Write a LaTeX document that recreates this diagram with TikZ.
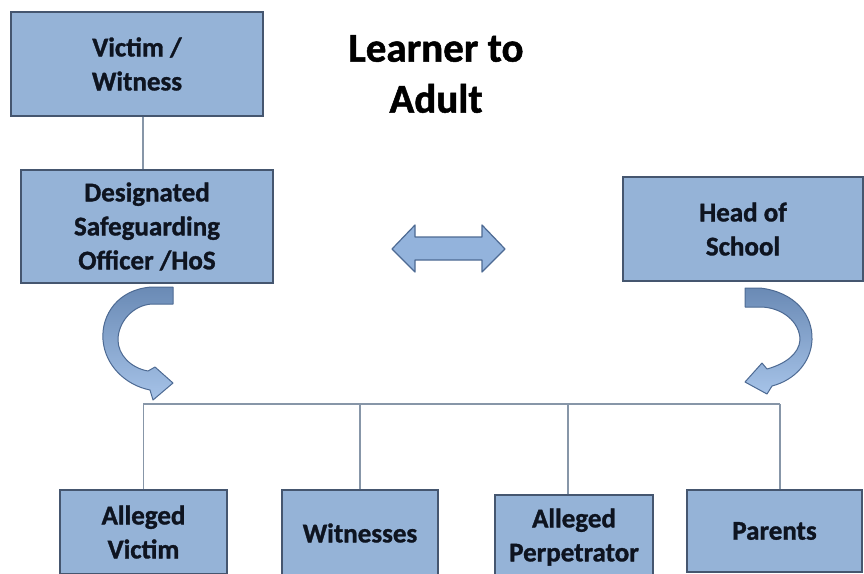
\documentclass[tikz,border=0pt]{standalone}
\usepackage{fontspec}
\setmainfont{Carlito}[BoldFeatures={FakeBold=1.2}]
\definecolor{boxfill}{HTML}{95B3D7}
\definecolor{boxline}{HTML}{45566F}
\definecolor{lineclr}{HTML}{8796A8}
\definecolor{txtclr}{HTML}{0E1420}
\definecolor{arrtop}{HTML}{6A8AB5}
\definecolor{arrbot}{HTML}{A6C3E8}
\definecolor{arrline}{HTML}{4D6A93}
\definecolor{dblfill}{HTML}{93B3DC}
\begin{document}
\begin{tikzpicture}[x=1pt,y=-1pt,
  box/.style={draw=boxline, fill=boxfill, line width=1.3pt, align=center,
    font=\fontsize{27}{34}\selectfont\bfseries, text=txtclr, inner sep=0pt},
  titlestyle/.style={align=center, font=\fontsize{41}{51}\selectfont\bfseries, text=black, inner sep=0pt},
  link/.style={draw=lineclr, line width=1.4pt},
  curvearrow/.style={draw=arrline, line width=1pt, top color=arrtop, bottom color=arrbot, line join=round},
  dblarrow/.style={draw=arrline, line width=1.2pt, fill=dblfill, line join=round}]
\useasboundingbox[fill=white] (0,0) rectangle (864,573);

% upper boxes
\node[box, minimum width=252, minimum height=104] (vw) at (137,64) {Victim /\\Witness};
\node[box, minimum width=252, minimum height=113] (dso) at (147,226.5) {Designated\\Safeguarding\\Officer /HoS};
\node[box, minimum width=240, minimum height=104] (hos) at (743,229) {Head of\\School};
\node[titlestyle] (ttl) at (436,74) {Learner to\\Adult};

% lower boxes
\node[box, minimum width=167, minimum height=84] (av) at (143.5,532) {Alleged\\Victim};
\node[box, minimum width=156, minimum height=86] (wit) at (360,533) {Witnesses};
\node[box, minimum width=158, minimum height=84] (ap) at (574,537) {Alleged\\Perpetrator};
\node[box, minimum width=175, minimum height=82] (par) at (774.5,531) {Parents};

% connectors
\draw[link] ([xshift=6pt]vw.south) -- ([xshift=-4pt]dso.north);
\coordinate (busL) at (143,404);
\coordinate (busR) at (780,404);
\draw[link] (busL) -- (busR);
\draw[link] (av.north) -- (av.north |- busL);
\draw[link] (wit.north) -- (wit.north |- busL);
\draw[link] ([xshift=-6pt]ap.north) -- ([xshift=-6pt]ap.north |- busL);
\draw[link] ([xshift=5.5pt]par.north) -- ([xshift=5.5pt]par.north |- busL);

% double arrow
\draw[dblarrow] (392,249) -- (415,225) -- (415,237) -- (482,237) -- (482,225) -- (505,249)
  -- (482,272) -- (482,260) -- (415,260) -- (415,272) -- cycle;

% left curved arrow
\draw[curvearrow] (173,287) -- (152,287) .. controls (118,289) and (101,315) .. (103,340)
  .. controls (105,365) and (125,385) .. (150,390) -- (153,400) -- (173,383) -- (155,367)
  -- (148,371) .. controls (131,368) and (118,355) .. (118,340)
  .. controls (118,322) and (133,305) .. (152,304) -- (173,304) -- cycle;

% right curved arrow
\draw[curvearrow] (745,288) -- (760,288) .. controls (795,292) and (813,315) .. (812,340)
  .. controls (811,362) and (795,380) .. (772,386) -- (767,394) -- (745,382) -- (762,363)
  -- (767,369) .. controls (785,364) and (799,354) .. (800,340)
  .. controls (800,322) and (782,307) .. (760,307) -- (745,307) -- cycle;
\end{tikzpicture}
\end{document}
